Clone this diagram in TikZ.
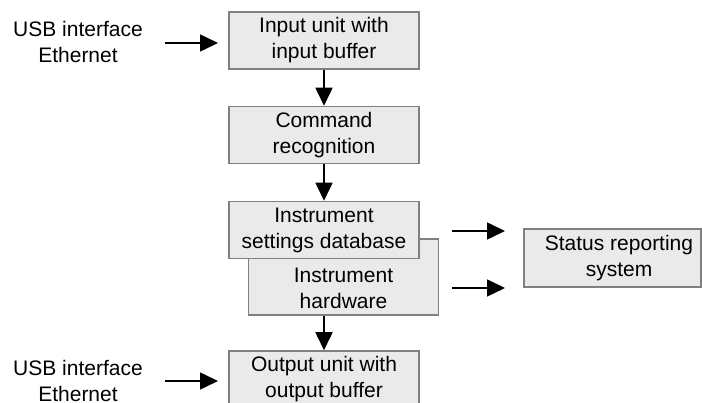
\documentclass[tikz,border=0pt]{standalone}
\usepackage{fontspec}
\setmainfont{Liberation Sans}
\usetikzlibrary{arrows.meta}
\definecolor{boxfill}{RGB}{234,234,234}
\definecolor{boxdraw}{RGB}{128,128,128}
\begin{document}
\begin{tikzpicture}[x=1pt,y=-1pt,
  font=\fontsize{21}{26}\selectfont,
  blk/.style={draw=boxdraw,fill=boxfill,line width=1.5pt,minimum width=190pt,minimum height=57pt,inner sep=0pt,align=center},
  txt/.style={align=center,inner sep=0pt},
  conn/.style={line width=1.6pt,-{Triangle[length=18pt,width=17pt]}}]
\useasboundingbox (0,0) rectangle (702,403);
\node[blk] (in) at (324,40.5) {Input unit with\\input buffer};
\node[blk] (cmd) at (324,135) {Command\\recognition};
\node[blk,minimum height=76pt] (hw) at (343.5,277) {};
\node[txt] (hwt) at (343.5,288) {Instrument\\hardware};
\node[blk] (db) at (324,230) {Instrument\\settings database};
\node[blk] (out) at (324,379.5) {Output unit with\\output buffer};
\node[blk,minimum width=177pt,minimum height=58pt] (st) at (612.5,258) {};
\node[txt] (stt) at (619,258) {Status reporting\\system};
\node[txt] (usb1) at (78,42) {USB interface\\Ethernet};
\node[txt] (usb2) at (78,381) {USB interface\\Ethernet};
\coordinate (a1s) at (165,43); \coordinate (a1e) at (218,43);
\coordinate (a2s) at (165,381); \coordinate (a2e) at (218,381);
\coordinate (a3s) at (452,231); \coordinate (a3e) at (505,231);
\coordinate (a4s) at (452,288); \coordinate (a4e) at (505,288);
\draw[conn] (a1s) -- (a1e);
\draw[conn] (a2s) -- (a2e);
\draw[conn] (a3s) -- (a3e);
\draw[conn] (a4s) -- (a4e);
\draw[conn] (in.south) -- (cmd.north);
\draw[conn] (cmd.south) -- (db.north);
\draw[conn] (hw.south -| out.north) -- (out.north);
\end{tikzpicture}
\end{document}
